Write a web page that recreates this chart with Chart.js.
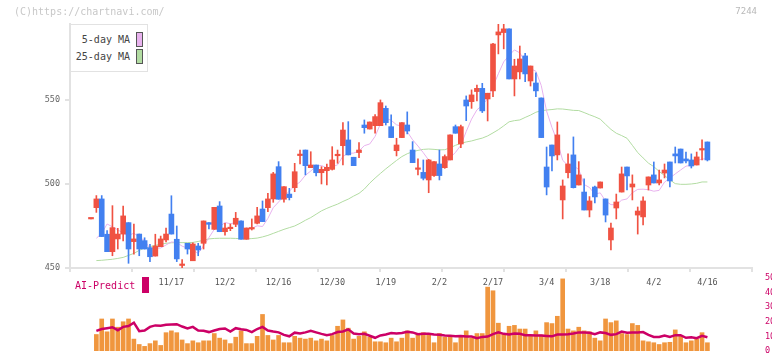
<!DOCTYPE html>
<html><head><meta charset="utf-8">
<script src="https://cdn.jsdelivr.net/npm/chart.js@4/dist/chart.umd.min.js"></script>
<style>
html,body{margin:0;padding:0;background:#fff;}
#wrap{position:relative;width:772px;height:361px;overflow:hidden;font-family:'DejaVu Sans Mono',monospace;}
canvas{position:absolute;left:0;top:0;}
.t{position:absolute;white-space:pre;line-height:1;}
#legend{position:absolute;left:70px;top:24px;width:76px;height:46px;border:1px solid #e2e2e2;background:#fff;box-sizing:content-box;}
.li{position:absolute;right:4px;height:15px;display:flex;align-items:center;font-size:10px;color:#444;}
.sw{width:5px;height:13px;border:1px solid #555;margin-left:6px;}
</style></head><body>
<div id="wrap">
<canvas id="main" width="772" height="361"></canvas>
<canvas id="vol" width="772" height="361"></canvas>
<div class="t" style="left:14px;top:7px;font-size:10px;color:#c8c8c8">(C)https://chartnavi.com/</div>
<div class="t" style="right:15px;top:7px;font-size:9px;color:#b8b8b8">7244</div>
<div id="legend"></div>
<div class="t" style="left:75px;top:281px;font-size:10px;color:#cc0066">AI-Predict</div>
<div style="position:absolute;left:142px;top:277px;width:7px;height:16px;background:#cc0066"></div>
</div>
<script>
const dates = ['10/24','10/27','10/28','10/29','10/30','10/31','11/4','11/5','11/6','11/7','11/10','11/11','11/12','11/13','11/14','11/17','11/18','11/19','11/20','11/21','11/25','11/26','11/27','11/28','12/1','12/2','12/3','12/4','12/5','12/8','12/9','12/10','12/11','12/12','12/15','12/16','12/17','12/18','12/19','12/22','12/23','12/24','12/25','12/26','12/29','12/30','1/5','1/6','1/7','1/8','1/9','1/13','1/14','1/15','1/16','1/19','1/20','1/21','1/22','1/23','1/26','1/27','1/28','1/29','1/30','2/2','2/3','2/4','2/5','2/6','2/9','2/10','2/12','2/13','2/16','2/17','2/18','2/19','2/20','2/24','2/25','2/26','2/27','3/2','3/3','3/4','3/5','3/6','3/9','3/10','3/11','3/12','3/13','3/16','3/17','3/18','3/19','3/23','3/24','3/25','3/26','3/27','3/30','3/31','4/1','4/2','4/3','4/6','4/7','4/8','4/9','4/10','4/13','4/14','4/15','4/16'];
const tickLabels = ['11/17','12/2','12/16','12/30','1/19','2/2','2/17','3/4','3/18','4/2','4/16'];
const priceTicks = [450, 500, 550];
const volTicks = [0, 10, 20, 30, 40, 50];

const open = [479.2,485.9,491.1,470.1,459.7,467.3,470.2,477.0,465.7,470.2,466.3,462.1,457.1,462.7,466.7,482.1,467.1,451.5,464.7,454.3,463.1,464.7,477.0,473.0,486.9,471.6,473.4,476.0,478.0,467.1,473.2,476.6,485.1,485.9,491.1,510.3,490.9,494.0,497.8,516.9,520.2,509.7,511.3,506.7,507.9,508.7,516.8,522.8,526.2,515.9,518.7,535.1,532.7,534.7,534.7,545.0,534.1,519.8,527.6,535.1,520.2,508.7,506.9,502.4,505.0,511.9,509.7,514.3,534.1,523.8,550.0,549.0,555.0,556.9,550.6,555.4,588.7,590.1,592.3,562.5,566.7,576.2,561.3,560.1,551.2,510.1,523.2,517.3,490.5,506.7,517.3,499.4,495.2,484.5,498.2,497.6,491.1,466.7,485.7,495.2,510.1,498.2,481.5,480.4,499.4,505.4,500.6,506.5,513.1,517.9,520.8,514.9,514.3,511.3,520.2,525.0];
const high = [479.2,493.1,493.1,472.2,487.1,473.6,486.9,477.0,476.2,470.2,468.0,464.1,470.1,469.0,473.8,493.0,475.0,455.0,464.7,465.0,464.7,478.0,477.0,486.1,489.5,476.6,476.2,483.1,478.0,473.8,479.2,486.1,489.9,494.4,506.9,513.3,498.4,497.4,512.3,520.2,520.2,519.2,511.3,510.3,511.9,522.2,520.2,536.5,537.1,515.9,524.6,538.1,536.9,541.3,550.0,546.4,541.1,527.2,536.5,542.9,525.2,514.9,514.3,514.7,513.3,520.2,517.3,529.2,535.1,535.1,552.4,556.0,558.9,559.9,554.0,583.7,595.2,595.2,592.3,574.2,582.1,577.8,570.2,566.1,551.2,522.0,523.2,536.9,502.4,517.9,528.0,513.3,503.0,492.5,498.8,501.2,491.1,476.8,494.0,510.1,510.1,505.4,486.3,492.3,504.2,513.1,508.3,511.9,513.1,522.0,520.8,519.0,517.9,519.0,526.2,525.0];
const low = [479.2,483.1,468.7,459.7,457.3,461.3,466.1,452.8,458.3,457.3,461.3,453.8,457.1,462.7,465.5,470.2,453.8,449.0,458.3,454.3,457.3,461.3,473.2,473.0,471.6,469.6,472.2,474.6,467.1,467.1,472.6,476.2,477.6,483.5,489.1,490.9,489.1,490.5,495.4,511.9,505.4,509.7,504.8,500.0,499.4,508.3,512.3,511.3,517.3,510.9,515.7,530.2,532.7,530.2,534.7,535.1,527.6,516.7,527.6,529.8,512.7,505.4,502.4,494.8,504.5,502.4,509.3,514.3,530.2,521.6,537.7,545.0,549.4,542.5,537.5,552.0,577.4,580.4,562.5,552.4,562.5,560.9,558.3,552.0,527.6,493.5,507.7,514.3,479.2,503.6,497.6,499.4,484.5,480.4,488.7,497.6,477.4,460.7,479.2,495.2,496.4,490.5,470.2,475.6,496.4,500.6,499.4,503.6,498.2,512.5,512.5,512.5,509.5,511.3,514.3,513.7];
const close = [479.2,491.1,468.7,459.7,474.0,470.2,481.0,461.3,467.3,461.3,461.3,456.7,463.1,467.3,470.2,470.2,455.4,451.8,461.3,464.3,460.7,478.0,476.0,486.1,471.6,473.8,473.8,479.6,467.1,473.8,473.8,481.0,477.6,491.1,506.0,490.9,498.4,491.9,507.3,517.3,510.9,511.3,506.7,508.7,509.9,514.3,517.3,532.1,517.3,510.9,520.2,533.5,536.9,540.1,548.4,536.5,527.6,523.2,536.5,531.5,512.7,509.1,503.4,514.3,513.3,505.0,516.3,529.2,530.2,534.1,546.4,553.0,556.9,543.5,554.0,583.3,590.5,592.3,562.5,570.2,574.4,565.5,570.2,555.4,527.6,498.2,516.7,529.2,498.8,511.9,497.8,505.4,484.5,489.9,492.3,501.2,481.5,473.8,489.3,506.0,504.8,500.0,483.9,489.9,504.2,500.6,502.4,508.3,501.8,516.7,512.5,513.7,510.7,516.1,520.8,514.3];

const ma5 = [null,467.7,470.6,476.2,474.5,472.7,470.7,469.2,470.8,468.2,466.4,461.6,461.9,461.9,463.7,465.5,465.2,463.0,461.8,460.6,458.7,463.2,468.1,473.0,474.5,477.1,476.3,477.0,473.2,473.6,473.6,475.1,474.7,479.5,485.9,489.3,492.8,495.7,498.9,501.2,505.2,507.7,510.7,511.0,509.5,510.2,511.4,516.5,518.2,518.4,519.6,522.8,523.8,528.3,535.8,539.1,537.9,535.2,534.4,531.1,526.3,522.6,518.6,514.2,510.6,509.0,510.5,515.6,518.8,523.0,531.2,538.6,544.1,546.8,550.8,558.1,565.6,572.7,576.5,579.8,578.0,573.0,568.6,567.1,558.6,543.4,533.6,525.4,514.1,511.0,510.9,508.6,499.7,497.9,494.0,494.7,489.9,487.7,487.6,490.4,491.1,494.8,496.8,496.9,496.6,495.7,496.2,501.1,503.5,506.0,508.3,510.6,511.1,513.9,514.8,515.1];
const ma25 = [null,454.4,454.6,454.9,455.2,455.7,456.3,457.5,458.7,460.5,461.9,462.7,463.5,464.1,464.7,465.0,465.1,465.1,465.1,465.2,465.8,466.5,467.3,467.6,467.7,467.7,467.7,467.6,467.4,467.3,467.5,467.8,468.5,469.4,470.6,471.8,473.0,474.0,475.0,476.6,478.4,480.0,482.0,484.0,485.5,486.8,488.0,489.6,491.0,492.8,494.4,497.0,500.5,503.5,506.3,509.0,511.5,514.0,516.3,518.0,519.2,520.0,520.6,520.8,520.6,520.3,520.4,521.5,523.0,524.2,525.0,525.6,526.5,527.3,528.6,530.4,532.3,534.6,537.0,537.7,538.1,539.6,541.0,542.7,543.6,544.0,544.3,544.7,544.6,544.2,543.8,543.7,542.5,541.2,540.0,538.6,535.5,532.5,530.2,528.8,527.2,523.0,518.7,515.5,512.4,510.3,507.5,505.0,502.5,500.2,499.8,499.8,500.0,500.4,501.2,501.2];

const volume = [null,11.25,21.9,13.1,21.9,16.25,20.0,21.9,8.1,4.4,3.1,5.0,6.9,3.75,12.5,13.75,12.5,7.5,5.0,6.9,5.6,6.9,6.9,11.9,8.75,7.5,5.0,9.4,13.75,5.0,5.0,10.0,25.0,10.6,7.5,10.6,5.6,5.6,10.0,8.75,8.1,8.75,6.9,8.1,6.9,10.6,16.9,21.25,15.6,8.1,10.0,13.1,9.4,6.25,6.25,5.6,8.75,6.25,8.75,13.75,8.75,11.9,12.5,11.9,5.6,11.9,9.4,10.0,5.6,10.0,13.75,8.75,11.9,11.9,43.75,41.25,19.0,11.9,16.9,17.5,15.0,15.0,10.6,13.75,11.0,19.4,18.75,23.75,49.4,15.0,13.75,16.25,13.75,13.1,8.75,6.9,21.9,19.4,20.6,11.9,11.25,18.75,17.5,6.9,6.25,5.6,4.4,5.6,5.9,14.4,10.0,5.6,6.9,8.1,12.5,5.6];
const aiPredict = [null,13.75,15.0,15.6,16.25,14.2,16.5,17.1,19.4,13.5,14.0,16.5,17.5,17.3,17.9,18.1,18.3,16.7,15.4,16.5,14.0,13.75,12.9,14.0,15.0,15.4,13.3,15.6,14.8,14.4,12.9,15.0,16.5,14.0,13.3,12.7,11.0,10.0,12.5,11.9,12.7,13.75,12.7,11.7,10.8,11.5,12.9,13.3,14.8,11.9,11.5,11.7,10.4,9.0,10.6,11.25,12.3,11.9,12.3,13.1,12.7,11.5,11.7,11.7,11.25,11.0,10.6,10.4,10.0,10.2,9.8,9.8,8.75,9.6,9.8,11.5,12.7,11.7,11.25,11.9,11.7,10.8,10.8,10.6,10.6,10.3,10.0,11.25,11.25,11.5,11.9,12.7,12.7,12.5,11.5,12.7,12.3,11.0,11.5,13.3,12.5,12.7,12.7,12.9,11.0,9.6,9.6,10.6,9.6,10.8,10.8,9.0,9.4,8.75,10.4,9.4];

const RED = '#f05242', BLUE = '#4280f0';
const XMIN = -3.918, XMAX = 123.32;
const idx = dates.map((d, i) => i);
const candleColor = idx.map(i => close[i] >= open[i] ? RED : BLUE);
const labelIdx = tickLabels.map(l => dates.indexOf(l));
const FONT = "'DejaVu Sans Mono', monospace";

const mainChart = new Chart(document.getElementById('main'), {
  data: {
    datasets: [
      { type: 'bar', label: 'body', data: idx.map(i => ({ x: i, y: [open[i], close[i]] })),
        backgroundColor: candleColor, barThickness: 5, minBarLength: 1.5, grouped: false, order: 0 },
      { type: 'bar', label: 'wick', data: idx.map(i => ({ x: i, y: [low[i], high[i]] })),
        backgroundColor: candleColor, barThickness: 1, grouped: false, order: 1 },
      { type: 'line', label: '5-day MA', data: idx.map(i => ({ x: i, y: ma5[i] })),
        borderColor: '#e8b2ee', backgroundColor: '#e8b2ee', borderWidth: 1, pointRadius: 0, order: 2 },
      { type: 'line', label: '25-day MA', data: idx.map(i => ({ x: i, y: ma25[i] })),
        borderColor: '#b2dca2', backgroundColor: '#b2dca2', borderWidth: 1, pointRadius: 0, order: 3 }
    ]
  },
  options: {
    responsive: false, animation: false, events: [],
    layout: { padding: { top: 24, left: 0, right: 20, bottom: 0 } },
    plugins: { legend: { display: false }, tooltip: { enabled: false } },
    scales: {
      x: { type: 'linear', position: 'bottom', min: XMIN, max: XMAX, offset: false,
        afterBuildTicks: s => { const st = (XMAX - XMIN) / 11; s.ticks = Array.from({length: 12}, (_, k) => ({ value: XMIN + k * st })); },
        afterFit: s => { s.height = 5; },
        ticks: { display: false },
        grid: { display: true, offset: false, drawOnChartArea: false, drawTicks: true, tickLength: 4, color: '#e2e2e2', lineWidth: 2 },
        border: { display: true, color: '#e2e2e2', width: 2 } },
      xd: { type: 'linear', position: 'bottom', min: XMIN, max: XMAX, offset: false,
        afterBuildTicks: s => { s.ticks = labelIdx.map(v => ({ value: v })); },
        afterFit: s => { s.height = 88; },
        ticks: { autoSkip: false, maxRotation: 0, padding: 5, color: '#555', font: { family: FONT, size: 8.5 },
          callback: v => dates[v] },
        grid: { display: false, drawTicks: false, offset: false }, border: { display: false } },
      y: { type: 'linear', position: 'left', min: 450, max: 595.2,
        afterBuildTicks: s => { s.ticks = priceTicks.map(v => ({ value: v })); },
        afterFit: s => { s.width = 70; },
        ticks: { padding: 5, color: '#666', font: { family: FONT, size: 8.5 } },
        grid: { display: true, drawOnChartArea: false, drawTicks: true, tickLength: 5, color: '#e2e2e2', lineWidth: 2 },
        border: { display: true, color: '#e2e2e2', width: 2 } }
    }
  }
});

new Chart(document.getElementById('vol'), {
  data: {
    datasets: [
      { type: 'line', label: 'AI-Predict', data: idx.map(i => ({ x: i, y: aiPredict[i] })),
        borderColor: '#cc0066', borderWidth: 2.5, pointRadius: 0, order: 0 },
      { type: 'bar', label: 'Volume', data: idx.map(i => ({ x: i, y: volume[i] })),
        backgroundColor: '#f0963e', barThickness: 4, order: 1 }
    ]
  },
  options: {
    responsive: false, animation: false, events: [],
    layout: { padding: { top: 278, left: 70, right: 0, bottom: 3 } },
    plugins: { legend: { display: false }, tooltip: { enabled: false } },
    scales: {
      x: { type: 'linear', min: XMIN, max: XMAX, display: false, offset: false, grid: { offset: false } },
      y: { type: 'linear', position: 'right', min: 0, max: 50,
        afterBuildTicks: s => { s.ticks = volTicks.map(v => ({ value: v })); },
        afterFit: s => { s.width = 20; },
        ticks: { padding: 5, color: '#cc0066', font: { family: FONT, size: 8.5 } },
        grid: { display: false }, border: { display: false } }
    }
  }
});

// HTML legend built from the chart's MA datasets
const lg = document.getElementById('legend');
mainChart.data.datasets.filter(d => d.type === 'line').forEach((d, k) => {
  const it = document.createElement('div');
  it.className = 'li';
  it.style.top = (7 + k * 17) + 'px';
  it.innerHTML = '<span>' + d.label + '</span><span class="sw" style="background:' + d.borderColor + '"></span>';
  lg.appendChild(it);
});
</script>
</body></html>
